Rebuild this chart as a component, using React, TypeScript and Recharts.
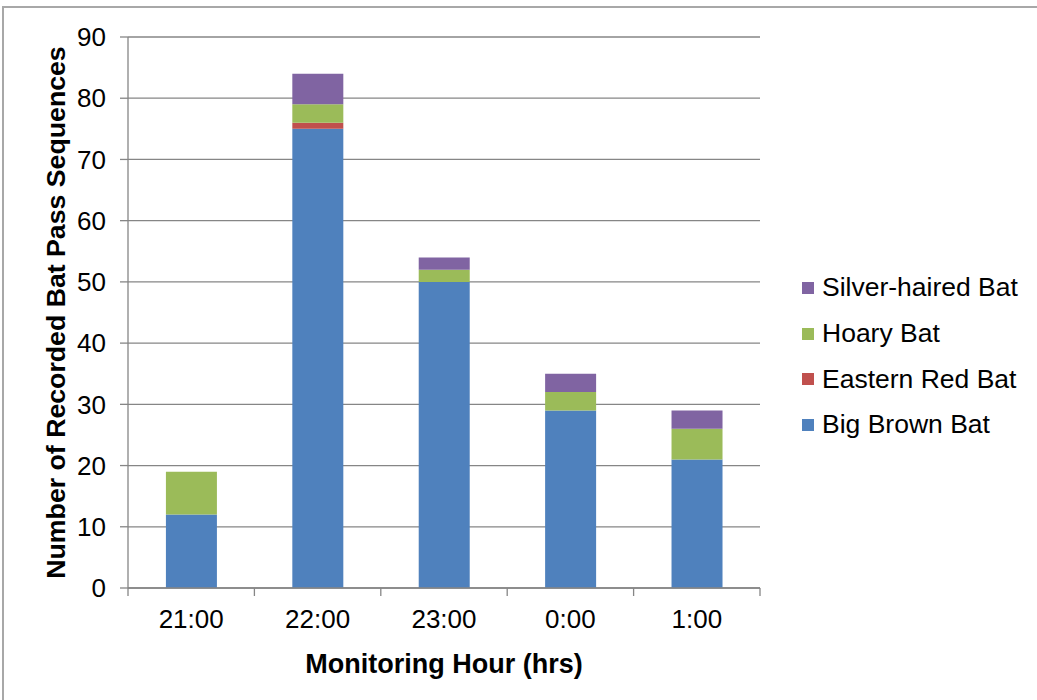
import { BarChart, Bar, XAxis, YAxis, CartesianGrid, Legend, Label } from "recharts"

// Values
const hours = ["21:00", "22:00", "23:00", "0:00", "1:00"]
const bigBrown = [12, 75, 50, 29, 21]
const easternRed = [0, 1, 0, 0, 0]
const hoary = [7, 3, 2, 3, 5]
const silverHaired = [0, 5, 2, 3, 3]
const yTicks = [0, 10, 20, 30, 40, 50, 60, 70, 80, 90]
const boundaryTicks = [0, 1, 2, 3, 4, 5]

const data = hours.map((hour, i) => ({
    hour,
    slot: i + 0.5,
    bigBrown: bigBrown[i],
    easternRed: easternRed[i],
    hoary: hoary[i],
    silverHaired: silverHaired[i],
}))

const FONT = "'Liberation Sans', Arial, sans-serif"
const AXIS = "#868686"
const LEGEND_W = 235

function LegendBox({ payload }: any) {
    const items = [...(payload || [])].reverse()
    return (
        <div style={{ fontFamily: FONT, fontSize: 26.5, color: "#000" }}>
            {items.map((entry: any) => (
                <div key={entry.value} style={{ display: "flex", alignItems: "center", height: 45.7 }}>
                    <span style={{ width: 12, height: 12, background: entry.color, marginRight: 8 }} />
                    <span>{entry.value}</span>
                </div>
            ))}
        </div>
    )
}

export default function App() {
    return (
        <div style={{ position: "relative", width: 1037, height: 700, background: "#fff" }}>
            <style>{`body{margin:0}`}</style>
            <div
                style={{
                    position: "absolute",
                    left: 2,
                    top: 6,
                    right: 0,
                    bottom: 0,
                    borderTop: "2px solid #a8a8a8",
                    borderLeft: "2px solid #a8a8a8",
                }}
            />
            <BarChart
                width={1037}
                height={700}
                data={data}
                margin={{ top: 37, right: 277 - LEGEND_W, left: 0, bottom: 22 }}
                barCategoryGap="30%"
                style={{ position: "absolute", left: 0, top: 0 }}
            >
                <CartesianGrid horizontal vertical={false} stroke={AXIS} strokeWidth={1.3} />
                {/* category boundaries for the outward tick marks */}
                <XAxis
                    xAxisId="bounds"
                    type="number"
                    dataKey="slot"
                    domain={[0, 5]}
                    allowDataOverflow
                    ticks={boundaryTicks}
                    interval={0}
                    height={8}
                    axisLine={{ stroke: AXIS, strokeWidth: 1.3 }}
                    tickSize={8}
                    tickLine={{ stroke: AXIS, strokeWidth: 1.3 }}
                    tick={() => <g />}
                />
                <XAxis
                    xAxisId="cat"
                    dataKey="hour"
                    height={82}
                    tickLine={false}
                    tickSize={0}
                    tickMargin={14}
                    axisLine={false}
                    tick={{ fill: "#000", fontSize: 26, fontFamily: FONT }}
                >
                    <Label
                        content={({ viewBox }: any) => (
                            <text
                                x={viewBox.x + viewBox.width / 2}
                                y={viewBox.y + 77}
                                textAnchor="middle"
                                fontFamily={FONT}
                                fontSize={27}
                                fontWeight="bold"
                                fill="#000"
                            >
                                Monitoring Hour (hrs)
                            </text>
                        )}
                    />
                </XAxis>
                <YAxis
                    width={128}
                    domain={[0, 90]}
                    ticks={yTicks}
                    interval={0}
                    tickSize={8}
                    tickMargin={14}
                    axisLine={{ stroke: AXIS, strokeWidth: 1.3 }}
                    tickLine={{ stroke: AXIS, strokeWidth: 1.3 }}
                    tick={{ fill: "#000", fontSize: 26, fontFamily: FONT }}
                >
                    <Label
                        content={({ viewBox }: any) => {
                            const cx = viewBox.x + 56
                            const cy = viewBox.y + viewBox.height / 2
                            return (
                                <text
                                    x={cx}
                                    y={cy}
                                    transform={`rotate(-90 ${cx} ${cy})`}
                                    textAnchor="middle"
                                    dominantBaseline="central"
                                    fontFamily={FONT}
                                    fontSize={26.7}
                                    fontWeight="bold"
                                    fill="#000"
                                >
                                    Number of Recorded Bat Pass Sequences
                                </text>
                            )
                        }}
                    />
                </YAxis>
                <Legend
                    layout="vertical"
                    align="right"
                    verticalAlign="middle"
                    content={<LegendBox />}
                    wrapperStyle={{ left: 802, top: 265, width: LEGEND_W }}
                />
                <Bar xAxisId="cat" dataKey="bigBrown" name="Big Brown Bat" stackId="a" fill="#4F81BD" isAnimationActive={false} />
                <Bar xAxisId="cat" dataKey="easternRed" name="Eastern Red Bat" stackId="a" fill="#C0504D" isAnimationActive={false} />
                <Bar xAxisId="cat" dataKey="hoary" name="Hoary Bat" stackId="a" fill="#9BBB59" isAnimationActive={false} />
                <Bar xAxisId="cat" dataKey="silverHaired" name="Silver-haired Bat" stackId="a" fill="#8064A2" isAnimationActive={false} />
            </BarChart>
        </div>
    )
}
